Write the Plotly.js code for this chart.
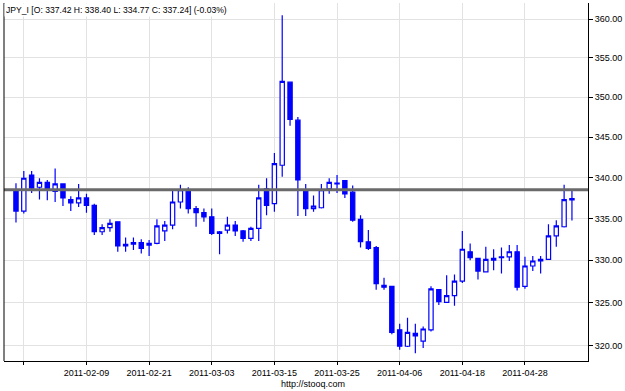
<!DOCTYPE html>
<html>
<head>
<meta charset="utf-8">
<script src="https://cdn.plot.ly/plotly-3.0.1.min.js"></script>
<style>html,body{margin:0;padding:0;background:#fff}#chart{width:625px;height:391px}</style>
</head>
<body>
<div id="chart"></div>
<script>
const dates = ["2011-01-27","2011-01-28","2011-01-31","2011-02-01","2011-02-02","2011-02-03","2011-02-04",
"2011-02-07","2011-02-08","2011-02-09","2011-02-10","2011-02-11","2011-02-14","2011-02-15","2011-02-16",
"2011-02-17","2011-02-18","2011-02-21","2011-02-22","2011-02-23","2011-02-24","2011-02-25","2011-02-28",
"2011-03-01","2011-03-02","2011-03-03","2011-03-04","2011-03-07","2011-03-08","2011-03-09","2011-03-10",
"2011-03-11","2011-03-14","2011-03-15","2011-03-16","2011-03-17","2011-03-18","2011-03-21","2011-03-22",
"2011-03-23","2011-03-24","2011-03-25","2011-03-28","2011-03-29","2011-03-30","2011-03-31","2011-04-01",
"2011-04-04","2011-04-05","2011-04-06","2011-04-07","2011-04-08","2011-04-11","2011-04-12","2011-04-13",
"2011-04-14","2011-04-15","2011-04-18","2011-04-19","2011-04-20","2011-04-21","2011-04-22","2011-04-25",
"2011-04-26","2011-04-27","2011-04-28","2011-04-29","2011-05-02","2011-05-03","2011-05-04","2011-05-05","2011-05-06"];
const openV = [338.5,335.9,340.3,338.8,339.4,338.3,339.2,337.3,336.9,337.5,336.6,333.4,333.9,334.6,331.7,331.9,332.1,331.8,332.0,
333.5,334.2,337.0,338.5,336.2,335.7,335.2,333.2,333.6,334.2,333.5,332.6,333.8,338.6,336.8,341.5,351.9,347.1,338.4,336.2,
336.3,338.6,339.2,339.6,338.2,334.9,332.2,331.5,327.0,326.9,321.8,319.9,321.4,320.5,321.8,326.5,325.0,325.8,327.5,331.0,
330.2,328.6,330.0,330.3,330.4,331.0,326.9,329.3,329.9,330.1,332.9,334.0,337.42];
const highV = [339.3,340.8,340.8,339.9,339.7,341.1,339.3,337.7,339.2,338.0,336.8,334.3,334.9,334.6,332.7,332.7,332.5,332.4,334.9,
334.7,338.4,339.1,338.8,336.5,336.2,336.2,333.5,335.2,334.7,333.6,334.0,339.1,339.9,343.0,360.5,351.9,347.5,339.2,337.8,
339.2,339.9,340.3,339.6,339.0,335.4,333.6,331.7,327.9,326.9,322.5,323.2,322.5,322.2,326.9,326.5,328.2,328.3,333.5,332.0,
330.2,331.6,331.3,331.5,331.8,331.8,330.4,330.5,330.5,334.3,334.8,339.1,338.40];
const lowV = [334.5,335.6,338.1,337.3,337.2,337.0,336.5,335.9,336.4,335.7,333.0,333.0,333.4,331.0,331.0,331.2,330.8,330.5,331.9,
332.3,333.7,336.2,335.6,334.0,334.6,333.0,330.7,333.2,332.9,332.2,332.3,332.3,335.4,335.8,340.1,346.4,335.3,335.3,335.8,
336.2,338.0,338.1,337.5,334.6,331.5,331.2,326.5,326.5,321.3,319.5,319.8,319.1,319.7,321.6,324.7,325.0,324.6,327.3,330.0,
327.7,328.6,328.8,328.4,329.9,326.4,326.6,328.7,328.4,330.1,331.6,333.9,334.77];
const closeV = [335.9,339.9,338.7,339.4,338.4,339.2,337.5,336.9,337.5,336.6,333.4,333.9,334.4,331.7,331.9,332.1,331.4,332.0,334.1,
334.2,337.0,338.5,336.2,335.7,335.2,333.2,333.4,334.2,333.5,332.6,333.8,337.5,336.6,341.7,352.0,347.2,339.7,336.2,336.5,
338.5,339.4,339.3,338.0,334.8,332.2,331.4,327.2,326.8,321.5,319.9,321.5,321.1,321.9,326.6,325.1,325.8,327.5,331.3,330.3,
328.7,330.1,330.2,330.4,331.0,326.8,329.3,329.9,330.1,332.9,334.1,337.3,337.24];
const tickDates = ["2011-01-28","2011-02-09","2011-02-21","2011-03-03","2011-03-15","2011-03-25","2011-04-06","2011-04-18","2011-04-28"];
const tickLabels = ["","2011-02-09","2011-02-21","2011-03-03","2011-03-15","2011-03-25","2011-04-06","2011-04-18","2011-04-28"];
const yTicks = [320,325,330,335,340,345,350,355,360];
const refLevel = 338.5;
const titleText = "JPY_I [O: 337.42 H: 338.40 L: 334.77 C: 337.24] (-0.03%)";
const sourceText = "http://stooq.com";

const FONT = "Liberation Sans, Arial, sans-serif";
const trace = {
  type: 'candlestick', x: dates, open: openV, high: highV, low: lowV, close: closeV,
  increasing: {line: {color: '#0000ff', width: 1.2}, fillcolor: '#ffffff'},
  decreasing: {line: {color: '#0000ff', width: 1.2}, fillcolor: '#0000ff'},
  whiskerwidth: 0, hoverinfo: 'none', showlegend: false
};
const layout = {
  width: 625, height: 391,
  margin: {l: 4, r: 37, t: 3, b: 30, pad: 0},
  paper_bgcolor: '#ffffff', plot_bgcolor: '#ffffff',
  boxgap: 0.22,
  font: {family: FONT, size: 9, color: '#000'},
  xaxis: {
    type: 'category', categoryorder: 'array', categoryarray: dates,
    range: [-1.53, 73.05], rangeslider: {visible: false},
    tickmode: 'array', tickvals: tickDates, ticktext: tickLabels,
    showgrid: true, gridcolor: '#e2e2e2', gridwidth: 1,
    showline: true, linecolor: '#000', linewidth: 1,
    ticks: 'outside', ticklen: 3, tickcolor: '#000',
    tickfont: {family: FONT, size: 9, color: '#000'}, zeroline: false, fixedrange: true
  },
  yaxis: {
    type: 'log', side: 'right',
    range: [Math.log10(318.2), Math.log10(362.1)],
    tickmode: 'array', tickvals: yTicks, ticktext: yTicks.map(v => v.toFixed(2)),
    showgrid: true, gridcolor: '#e2e2e2', gridwidth: 1,
    showline: true, linecolor: '#000', linewidth: 1, mirror: false,
    ticks: 'outside', ticklen: 4, tickcolor: '#000',
    tickfont: {family: FONT, size: 9, color: '#000'}, zeroline: false, fixedrange: true
  },
  shapes: [
    {type: 'line', xref: 'paper', yref: 'y', x0: 0, x1: 1, y0: refLevel, y1: refLevel,
     line: {color: '#6a6a6a', width: 3}, layer: 'above'},
    {type: 'line', xref: 'paper', yref: 'paper', x0: 0, x1: 0, y0: 0, y1: 1,
     line: {color: '#000', width: 1}}
  ],
  annotations: [
    {text: titleText, xref: 'paper', yref: 'paper', x: 0, y: 1, xanchor: 'left', yanchor: 'top',
     showarrow: false, bgcolor: '#ffffff', font: {family: FONT, size: 8.6, color: '#000'}, borderpad: 1, xshift: 0},
    {text: sourceText, xref: 'paper', yref: 'paper', x: 0.529, y: -0.064, xanchor: 'center', yanchor: 'middle',
     showarrow: false, font: {family: FONT, size: 9, color: '#000'}}
  ]
};
Plotly.newPlot('chart', [trace], layout, {staticPlot: true, displayModeBar: false});
</script>
</body>
</html>
